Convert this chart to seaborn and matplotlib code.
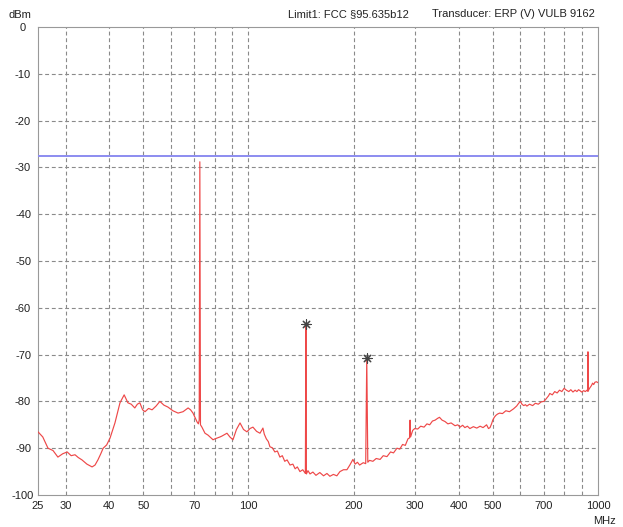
import matplotlib
matplotlib.use("Agg")
import matplotlib.pyplot as plt
import seaborn as sns
import pandas as pd
from matplotlib.ticker import FixedLocator, NullLocator, NullFormatter

# ---------------- data ----------------
freq_mhz = [
    25.0, 25.8, 26.7, 27.6, 28.5, 29.4, 30.3, 31.1, 31.9, 32.6,
    33.4, 34.5, 35.7, 36.4, 37.1, 37.8, 38.4, 39.3, 40.2, 41.5,
    42.9, 44.1, 45.2, 46.2, 47.3, 48.1, 48.9, 49.8, 50.6, 51.8,
    53.0, 54.4, 55.8, 57.3, 58.8, 60.8, 62.9, 65.0, 67.2, 68.3,
    69.4, 70.4, 71.3, 71.9, 72.3, 72.6, 72.9, 73.6, 75.1, 76.6,
    79.2, 80.2, 82.9, 84.0, 86.8, 88.5, 90.3, 92.4, 94.6, 96.8,
    99.0, 101, 103, 105.5, 107.9, 110, 111, 112.5, 114, 115.2,
    117, 119, 121, 123, 125, 127, 129, 131.5, 134, 136,
    138, 140.4, 143, 145.5, 146, 146.5, 148, 150, 152.9, 156,
    160, 164, 167.7, 171, 175, 179, 182.7, 187, 191.3, 195,
    199, 202, 205, 208, 213, 216.5, 218, 219.5, 222, 227,
    232, 238, 243, 249, 255, 260, 266, 271, 276, 281,
    286, 289, 290, 291, 295, 299, 305, 311, 318, 324,
    330, 336, 342, 348, 352, 358, 365, 372, 380, 390,
    397, 403, 410, 416, 423, 430, 440, 450, 460, 469,
    480, 486, 491, 496, 500, 505, 510, 516, 523, 533,
    545, 558, 573, 585, 593, 600, 606, 613, 620, 626,
    637, 650, 662, 675, 688, 700, 708, 715, 722, 728,
    740, 752, 764, 776, 788, 800, 812, 825, 836, 848,
    860, 870, 880, 888, 898, 910, 920, 930, 935, 936,
    937, 944, 950, 958, 965, 972, 980, 990, 1000,
]
level_dbm = [
    -86.5, -87.6, -90.0, -90.5, -91.9, -91.2, -90.8, -91.6, -91.4, -92.0,
    -92.5, -93.4, -94.0, -93.6, -92.5, -91.2, -90.0, -89.3, -87.8, -84.6,
    -80.3, -78.6, -80.3, -80.6, -81.4, -80.6, -80.3, -81.8, -82.2, -81.5,
    -81.8, -81.0, -80.0, -80.8, -81.2, -82.0, -82.5, -82.2, -81.4, -81.8,
    -82.5, -83.5, -84.4, -84.8, -84.0, -28.8, -85.0, -85.5, -86.8, -87.2,
    -88.2, -88.0, -87.6, -87.4, -86.8, -87.6, -88.2, -86.0, -84.6, -86.0,
    -86.5, -85.8, -85.5, -86.4, -86.8, -85.7, -87.0, -88.0, -88.6, -89.7,
    -89.9, -90.8, -90.6, -91.9, -91.6, -92.8, -92.5, -93.6, -93.4, -94.4,
    -94.0, -95.0, -94.6, -95.4, -63.5, -95.5, -94.8, -95.5, -95.1, -95.8,
    -95.2, -95.9, -95.4, -96.0, -95.6, -95.9, -95.0, -94.6, -94.6, -93.6,
    -92.4, -93.4, -93.0, -93.6, -93.1, -93.3, -70.7, -93.0, -92.6, -92.8,
    -92.2, -92.4, -91.6, -91.8, -90.8, -91.0, -90.0, -90.2, -89.2, -89.4,
    -88.0, -87.8, -84.0, -87.6, -86.2, -85.8, -85.9, -85.3, -85.5, -84.8,
    -85.0, -84.2, -84.0, -83.6, -83.4, -84.0, -84.3, -84.8, -84.6, -85.2,
    -85.0, -85.5, -85.1, -85.6, -85.3, -85.8, -85.4, -85.7, -85.3, -85.6,
    -85.0, -85.8, -85.6, -84.8, -84.0, -83.4, -83.0, -82.7, -82.5, -82.6,
    -82.0, -82.2, -81.6, -81.0, -80.4, -80.0, -80.6, -80.9, -80.7, -81.0,
    -80.6, -80.9, -80.4, -80.6, -80.1, -80.0, -79.6, -79.2, -78.8, -78.3,
    -78.6, -77.9, -78.2, -77.6, -77.9, -77.2, -77.6, -77.9, -77.5, -78.0,
    -77.6, -77.9, -77.5, -77.7, -78.0, -77.7, -77.9, -77.6, -77.8, -69.4,
    -77.8, -77.3, -77.0, -76.6, -76.1, -76.4, -75.9, -75.8, -76.0,
]
marker_freq = [146, 218]
marker_level = [-63.5, -70.7]
limit_level = -27.5

x_ticks = [25, 30, 40, 50, 70, 100, 200, 300, 400, 500, 700, 1000]
x_grid = [30, 40, 50, 60, 70, 80, 90, 100, 200, 300, 400, 500, 600, 700, 800, 900]
y_ticks = [0, -10, -20, -30, -40, -50, -60, -70, -80, -90, -100]

# ---------------- plot ----------------
sns.set_theme(style="white")
plt.rcParams["font.family"] = ["Liberation Sans", "DejaVu Sans"]

fig = plt.figure(figsize=(6.23, 5.27), dpi=100)
ax = fig.add_axes([38 / 623, 1 - 495 / 527, 560 / 623, 468 / 527])

df = pd.DataFrame({"f": freq_mhz, "lvl": level_dbm})
ax.set_xscale("log")
sns.lineplot(data=df, x="f", y="lvl", ax=ax, color="#ee4848", linewidth=0.85,
             sort=False, estimator=None, zorder=3)
ax.axhline(limit_level, color="#8c8cf0", linewidth=1.4, zorder=3)
ax.scatter(marker_freq, marker_level, marker=(8, 2, 0), s=45, color="#444444",
           linewidths=0.8, zorder=4)

ax.set_xlim(25, 1000)
ax.set_ylim(-100, 0)

ax.xaxis.set_major_locator(FixedLocator(x_ticks))
ax.xaxis.set_minor_locator(NullLocator())
ax.xaxis.set_minor_formatter(NullFormatter())
ax.set_xticklabels([str(t) for t in x_ticks])
ax.set_yticks(y_ticks)
ax.set_yticklabels([str(t) for t in y_ticks])
ax.tick_params(axis="both", length=0, labelsize=8, colors="#222222")
ax.tick_params(axis="x", pad=4)
ax.tick_params(axis="y", pad=10.8)
for lab in ax.get_yticklabels():
    lab.set_horizontalalignment("center")

gs = dict(color="#8a8a8a", linewidth=0.8, linestyle=(0, (3.5, 2.5)), zorder=1)
for g in x_grid:
    ax.axvline(g, **gs)
for y in y_ticks[1:-1]:
    ax.axhline(y, **gs)

for sp in ax.spines.values():
    sp.set_color("#999999")
    sp.set_linewidth(0.8)

ax.set_xlabel("")
ax.set_ylabel("")

fig.text(20 / 623, 1 - 15 / 527, "dBm", fontsize=8, ha="center", va="center", color="#222222")
fig.text(604 / 623, 1 - 521 / 527, "MHz", fontsize=8, ha="center", va="center", color="#222222")
fig.text(348 / 623, 1 - 14 / 527, "Limit1: FCC §95.635b12", fontsize=8, ha="center", va="center", color="#222222")
fig.text(595 / 623, 1 - 14 / 527, "Transducer: ERP (V) VULB 9162", fontsize=8, ha="right", va="center", color="#222222")

fig.savefig("out.png", dpi=100)
